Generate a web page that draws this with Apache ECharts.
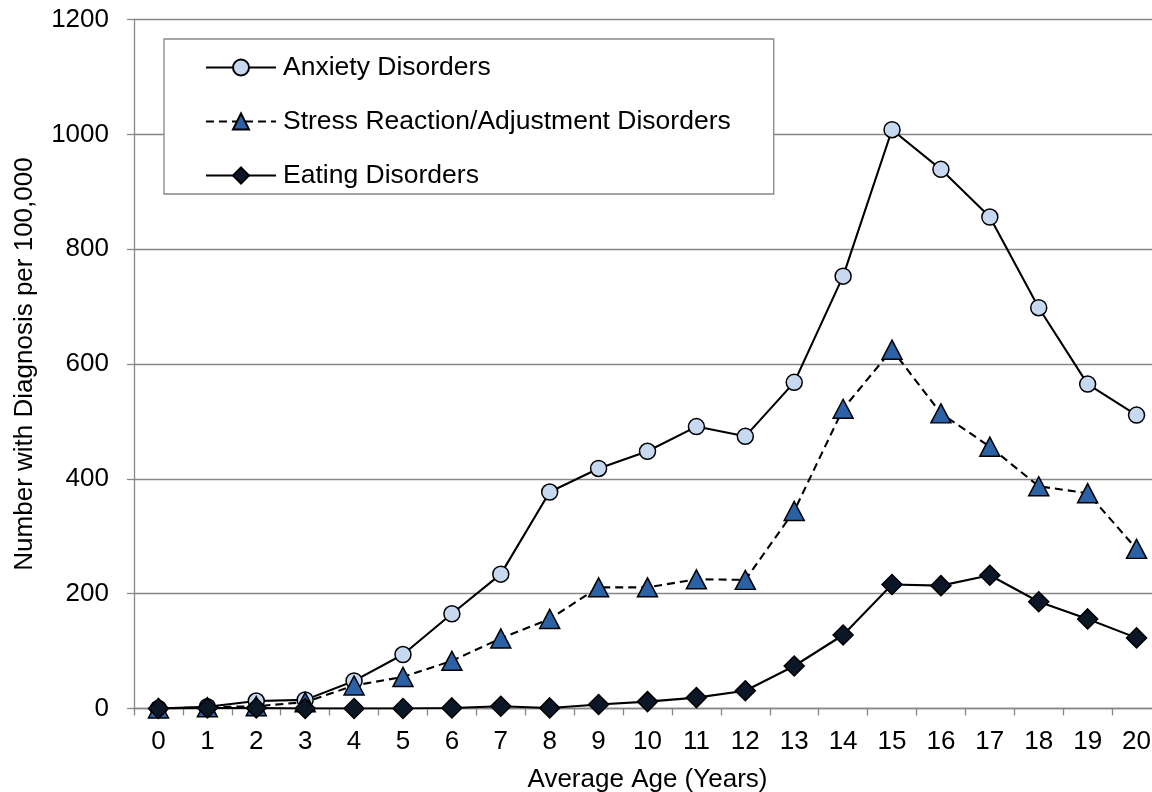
<!DOCTYPE html>
<html>
<head>
<meta charset="utf-8">
<script src="https://cdn.jsdelivr.net/npm/echarts@6/dist/echarts.min.js"></script>
<style>
html,body{margin:0;padding:0;background:#fff;}
#chart{width:1152px;height:792px;}
</style>
</head>
<body>
<div id="chart"></div>
<script>
const ages = ['0','1','2','3','4','5','6','7','8','9','10','11','12','13','14','15','16','17','18','19','20'];
const yTicks = [0, 200, 400, 600, 800, 1000, 1200];
const seriesNames = ['Anxiety Disorders', 'Stress Reaction/Adjustment Disorders', 'Eating Disorders'];
const anxiety = [0, 3, 13, 15, 48, 94, 165, 234, 377, 418, 448, 491, 474, 568, 753, 1008, 939, 856, 698, 565, 511];
const stress  = [0, 2, 4, 11, 40, 55, 83, 122, 156, 211, 211, 225, 224, 344, 522, 625, 514, 456, 387, 375, 278];
const eating  = [0, 1, 1, 0, 0, 0, 1, 4, 1, 7, 12, 19, 31, 74, 128, 216, 214, 232, 186, 156, 123];

const FONT = 'Liberation Sans, Arial, sans-serif';
const GREY = '#878787';

const chart = echarts.init(document.getElementById('chart'), null, {renderer: 'canvas'});
chart.setOption({
  animation: false,
  backgroundColor: '#ffffff',
  textStyle: {fontFamily: FONT, color: '#000'},
  grid: {left: 134, top: 19.5, width: 1027, height: 689, containLabel: false, outerBoundsMode: 'none'},
  legend: {
    orient: 'vertical',
    left: 164, top: 39,
    padding: [15, 43, 5, 41],
    itemWidth: 70, itemHeight: 20, itemGap: 27,
    backgroundColor: '#ffffff',
    borderColor: GREY, borderWidth: 1.3, borderRadius: 0,
    selectedMode: false,
    textStyle: {fontFamily: FONT, fontSize: 26.5, color: '#000', padding: [0,0,0,2]},
    data: seriesNames
  },
  xAxis: {
    type: 'category',
    data: ages,
    boundaryGap: true,
    name: 'Average Age (Years)',
    nameLocation: 'middle',
    nameGap: 58,
    nameTextStyle: {fontFamily: FONT, fontSize: 26, color: '#000'},
    axisLine: {show: true, lineStyle: {color: GREY, width: 1.3}},
    axisTick: {show: true, alignWithLabel: false, interval: 0, length: 7, lineStyle: {color: GREY, width: 1.3}},
    axisLabel: {interval: 0, margin: 20, fontFamily: FONT, fontSize: 26, color: '#000'},
    splitLine: {show: false}
  },
  yAxis: {
    type: 'value',
    min: yTicks[0], max: yTicks[yTicks.length - 1], interval: 200,
    name: 'Number with Diagnosis per 100,000',
    nameLocation: 'middle',
    nameGap: 96,
    nameTextStyle: {fontFamily: FONT, fontSize: 26, color: '#000'},
    axisLine: {show: true, lineStyle: {color: GREY, width: 1.3}},
    axisTick: {show: true, length: 7, lineStyle: {color: GREY, width: 1.3}},
    axisLabel: {margin: 25, fontFamily: FONT, fontSize: 26, color: '#000', formatter: function (v) { return String(v); }},
    splitLine: {show: true, lineStyle: {color: GREY, width: 1.3}}
  },
  series: [
    {
      name: seriesNames[0], type: 'line', data: anxiety,
      symbol: 'circle', symbolSize: 16, showAllSymbol: true,
      lineStyle: {color: '#000', width: 2.1, type: 'solid'},
      itemStyle: {color: '#C7D9F0', borderColor: '#000', borderWidth: 1.5}
    },
    {
      name: seriesNames[1], type: 'line', data: stress,
      symbol: 'triangle', symbolSize: [20, 19], showAllSymbol: true,
      lineStyle: {color: '#000', width: 2.1, type: [8, 5]},
      itemStyle: {color: '#2B62A6', borderColor: '#000', borderWidth: 1.5}
    },
    {
      name: seriesNames[2], type: 'line', data: eating,
      symbol: 'diamond', symbolSize: 20, showAllSymbol: true,
      lineStyle: {color: '#000', width: 2.1, type: 'solid'},
      itemStyle: {color: '#0B1727', borderColor: '#000', borderWidth: 1.5}
    }
  ]
});
</script>
</body>
</html>
